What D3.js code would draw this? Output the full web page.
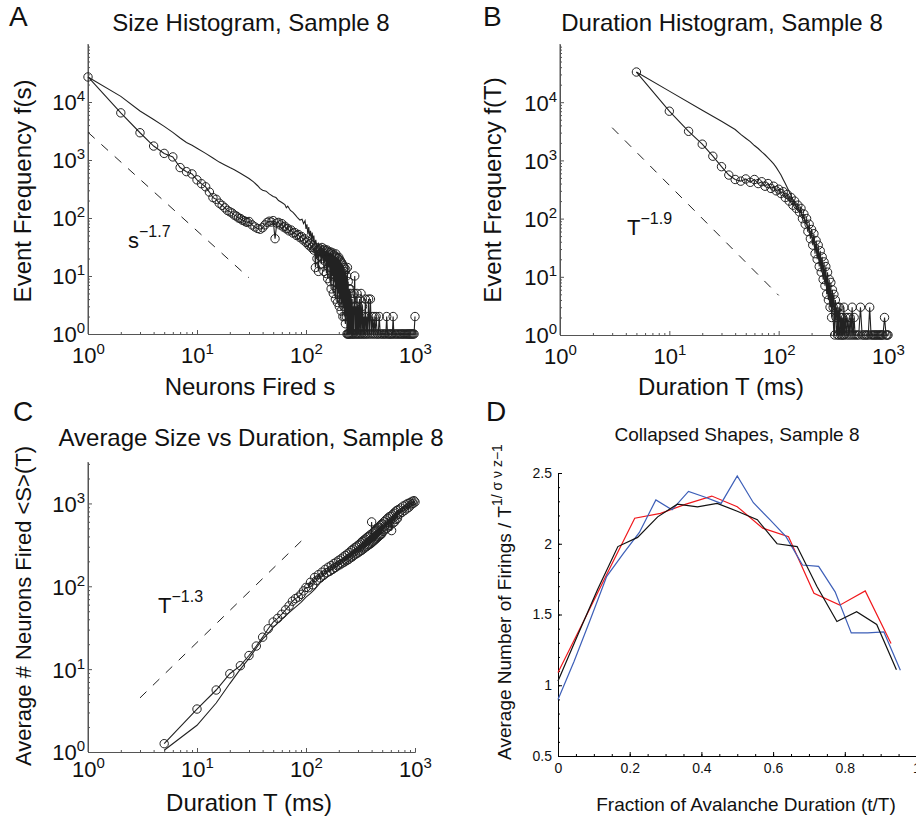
<!DOCTYPE html>
<html>
<head>
<meta charset="utf-8">
<script src="https://cdn.jsdelivr.net/npm/d3@7"></script>
<style>
  body { margin: 0; background: #fff; }
  text { font-family: "Liberation Sans", Arial, Helvetica, sans-serif; fill: #111; }
</style>
</head>
<body>
<svg id="fig" width="916" height="823"></svg>
<script>
// ---- panel A: avalanche size histogram (circles = data, thin line = model) ----
const sizeHist = [[1,27000],[2,6500],[3,2950],[4,1740],[5,1300],[6,1130],[7,740],[8,630],[9,575],[10,455],
  [11,390],[12,345],[13,280],[14,225],[15,210],[16,180],[17,165],[18,150],[19,135],[20,128],[21,122],[22,112],
  [23,108],[24,100],[25,98],[26,92],[27,90],[28,86],[29,84],[30,87],[32,76],[34,70],[36,66],[38,64],[40,68],
  [42,76],[44,84],[46,88],[48,85],[50,90],[52,44],[54,82],[56,84],[58,76],[60,80],[62,70],[64,72],[66,65],
  [68,66],[70,60],[73,62],[76,55],[79,56],[82,50],[85,52],[88,46],[91,48],[94,42],[97,44],[100,38],[103,40],
  [106,34],[109,36],[112,31],[115,33],[118,28],[120,30],[122,14],[124,31],[126,20],[128,28],[130,12],[132,30],
  [134,22],[136,29],[138,16],[140,31],[142,20],[144,28],[146,12],[148,29],[150,18],[152,27],[154,11],[156,28],
  [158,9],[160,26],[162,14],[164,25],[166,8],[168,26],[170,6],[172,24],[174,10],[176,25],[178,5],[180,23],
  [182,8],[184,22],[186,4],[188,24],[190,6],[192,21],[194,3.5],[196,20],[198,5],[200,21],[202,3],[204,19],
  [206,4],[208,18],[210,2.5],[212,17],[214,3.5],[216,16],[218,2],[220,15],[222,3],[224,14],[226,2],[228,12],
  [230,1.5],[232,13],[234,2],[236,10],[238,1],[240,14],[242,1],[244,8],[246,1],[248,6],
  [250,1],[253,6],[256,1],[259,5],[262,1],[265,4],[268,1],[271,3],[274,1],[277,5],[280,10],[283,1],[286,3],
  [290,1],[294,5],[298,1],[302,3],[306,1],[310,4],[315,1],[320,5],[325,1],[330,3],[335,1],[340,2],[345,1],
  [350,4],[356,1],[362,2],[368,1],[375,4],[382,1],[390,4],[398,1],[406,2],[414,1],[422,2],[430,1],[440,2],
  [450,1],[460,1],[470,2],[480,1],[495,1],[510,1],[525,1],[540,1],[550,2],[560,1],[575,1],[590,1],[605,1],
  [620,1],[630,2],[640,1],[660,1],[680,1],[700,1],[720,1],[740,1],[760,1],[780,1],[800,1],[820,1],[840,1],
  [860,1],[880,1],[900,1],[920,1],[940,1],[960,1],[980,1],[1000,2]];
const sizeModel = [[1,27000],[2,12500],[3,7000],[4,5000],[5,3800],[6,3000],[7,2400],[8,2000],[9,1800],[10,1600],
  [12,1300],[14,1080],[16,920],[18,820],[20,740],[22,680],[25,590],[28,520],[30,480],[33,420],[36,360],[38,320],
  [40,300],[43,290],[46,260],[50,235],[53,225],[56,200],[60,185],[64,170],[66,150],[68,160],[72,135],[76,125],
  [80,112],[84,100],[88,92],[92,95],[95,80],[98,90],[100,65],[102,78],[104,52],[106,70],[108,48],[110,60],
  [112,42],[114,56],[116,40],[118,50],[120,35],[123,42],[126,30],[130,36],[134,28],[138,32],[142,25],[146,30],
  [150,22],[155,26],[160,18],[165,24],[170,14],[175,22],[180,10],[185,20],[190,7],[195,18],[200,5],[205,15],
  [210,4],[215,14],[220,3],[225,10],[230,1.5],[235,8],[240,1],[245,5],[250,1]];
const sizeFit = [[1,3000],[30,9.3]];

// ---- panel B: duration histogram ----
const durHist = [[5,33000],[10,7000],[15,3160],[20,1900],[25,1180],[30,780],[35,560],[40,470],[45,440],[50,480],
  [55,420],[60,470],[65,400],[70,430],[75,360],[80,400],[85,330],[90,360],[95,300],[100,320],[105,270],[110,290],
  [115,230],[120,260],[125,200],[130,230],[135,170],[140,200],[145,150],[150,170],[155,130],[160,150],[165,100],
  [170,120],[175,80],[180,100],[185,60],[190,80],[195,45],[200,65],[205,35],[210,55],[215,25],[220,42],[225,20],
  [230,35],[235,15],[240,28],[245,12],[250,22],[255,9],[260,18],[265,7],[270,15],[275,5],[280,12],[285,4],
  [290,9],[295,3],[300,8],[305,2],[310,6],[315,3],[320,5],[325,1],[330,4],[335,2],[340,3],[345,1],[350,3],
  [355,1],[360,3],[365,2],[370,1],[375,2],[380,1],[385,2],[390,1],[395,3],[400,1],[410,2],[420,1],[430,2],
  [440,1],[450,2],[460,1],[470,3],[480,1],[490,2],[500,1],[520,1],[540,1],[560,3],[580,1],[600,1],[620,1],
  [640,1],[660,1],[680,3],[700,1],[720,1],[740,1],[760,1],[780,1],[800,1],[820,1],[840,1],[860,1],[880,1],
  [900,1],[930,2],[960,1],[980,1],[1000,1]];
const durModel = [[5,33000],[10,15500],[20,7300],[30,4700],[40,3400],[45,2800],[50,2400],[55,2100],[60,1800],
  [65,1600],[70,1400],[75,1250],[80,1100],[85,980],[90,870],[95,760],[100,650],[105,560],[110,470],[115,400],
  [120,340],[125,290],[130,250],[135,210],[140,180],[145,160],[150,145],[160,125],[170,100],[180,80],[190,62],
  [200,50],[210,38],[220,30],[230,22],[240,17],[250,12],[260,9],[270,8],[280,5],[285,8],[290,4],[300,3],
  [310,4],[320,1],[330,3],[340,1],[350,2],[360,1],[370,2],[380,1],[390,2],[400,1],[420,2],[440,1],[460,2],[480,1]];
const durFit = [[3,3650],[100,4.8]];

// ---- panel C: average size vs duration ----
const avgSize = [[5,1.26],[10,3.3],[15,5.6],[20,8.8],[25,11],[30,14.6],[35,19],[40,24.3],[45,30.7],[50,37],
  [55,41],[60,46],[65,52],[70,58],[75,66],[80,71],[85,74],[90,80],[95,88],[100,97],[105,96],[110,112],[115,104],
  [120,128],[125,118],[130,138],[135,126],[140,148],[145,136],[150,160],[155,146],[160,170],[165,152],[170,178],
  [175,160],[180,188],[185,168],[190,196],[195,176],[200,206],[205,182],[210,214],[215,190],[220,226],[225,196],
  [230,236],[235,204],[240,246],[245,210],[250,256],[255,220],[260,270],[265,226],[270,280],[275,236],[280,292],
  [285,244],[290,300],[295,250],[300,312],[305,258],[310,322],[315,266],[320,336],[325,272],[330,350],[335,282],
  [340,360],[345,290],[350,372],[355,300],[360,384],[365,306],[370,396],[375,316],[380,404],[385,322],[390,420],
  [395,330],[400,598],[405,340],[410,440],[415,350],[420,456],[425,360],[430,468],[435,370],[440,480],[445,380],
  [450,496],[455,392],[460,510],[465,400],[470,520],[475,412],[480,540],[485,420],[490,556],[495,430],[500,570],
  [510,460],[520,600],[530,480],[540,630],[550,500],[560,660],[570,520],[580,690],[590,540],[600,700],[610,470],
  [620,730],[630,580],[640,760],[650,600],[660,790],[670,640],[680,820],[690,660],[700,840],[720,740],[740,880],
  [760,780],[780,930],[800,820],[820,960],[840,860],[860,1000],[880,900],[900,1020],[920,960],[940,1060],
  [960,1000],[980,1080],[1000,1040]];
const avgModel = [[5,1.05],[10,2.1],[15,3.9],[20,6.7],[25,10],[30,13.5],[35,18],[40,23],[45,27],[50,32],
  [60,40],[70,48],[80,56],[90,64],[100,74],[110,82],[120,92],[130,104],[140,116],[150,124],[160,132],[175,142],
  [190,152],[210,170],[230,190],[250,205],[270,225],[290,240],[310,262],[330,270],[350,300],[370,310],
  [400,340],[430,360],[460,400],[500,440],[550,490],[600,540],[650,600],[700,650],[750,720],[800,780],
  [850,840],[900,900],[950,980],[1000,1040]];
const avgFit = [[3,4.5],[100,400]];

// ---- panel D: collapsed shapes ----
const shapeBlack = [[0,1.03],[0.056,1.36],[0.111,1.68],[0.167,1.98],[0.222,2.045],[0.278,2.19],[0.333,2.28],
  [0.389,2.26],[0.444,2.285],[0.5,2.23],[0.556,2.17],[0.611,2.0],[0.667,1.98],[0.722,1.70],[0.778,1.45],
  [0.833,1.52],[0.889,1.43],[0.944,1.11]];
const shapeRed = [[0,1.09],[0.071,1.45],[0.143,1.82],[0.214,2.18],[0.286,2.215],[0.357,2.28],[0.429,2.337],
  [0.5,2.262],[0.571,2.11],[0.643,2.05],[0.714,1.65],[0.786,1.566],[0.857,1.667],[0.929,1.295]];
const shapeBlue = [[0,0.9],[0.045,1.17],[0.091,1.47],[0.136,1.77],[0.182,1.93],[0.227,2.08],[0.273,2.31],
  [0.318,2.24],[0.364,2.37],[0.409,2.33],[0.455,2.285],[0.5,2.48],[0.545,2.29],[0.591,2.17],[0.636,2.05],
  [0.682,1.85],[0.727,1.84],[0.773,1.66],[0.818,1.37],[0.864,1.37],[0.909,1.377],[0.955,1.106]];

const FONT = '"Liberation Sans", Arial, Helvetica, sans-serif';
const svg = d3.select("#fig");

// text with a superscript part, e.g. T^-1.9
function supText(x, y, base, sup, size, supSize, shift, rotate) {
  const t = svg.append("text")
    .attr("x", x).attr("y", y)
    .style("font-size", size + "px");
  if (rotate) t.attr("transform", `rotate(-90,${x},${y})`).attr("text-anchor", "middle");
  t.append("tspan").text(base);
  if (sup) t.append("tspan").attr("dy", -shift).style("font-size", supSize + "px").text(sup);
  return t;
}

function drawLogPanel(p) {
  const x = d3.scaleLog().domain([1, 1000]).range([p.left, p.right]);
  const y = d3.scaleLog().domain(p.yDomain).range([p.bottom, p.top]);
  const g = svg.append("g");

  const xMinor = [];
  for (let e = 0; e < 3; e++) for (let m = 2; m <= 9; m++) xMinor.push(m * 10 ** e);
  const yMinor = [];
  for (let e = 0; e < 5; e++) for (let m = 2; m <= 9; m++) {
    if (m * 10 ** e <= p.yDomain[1]) yMinor.push(m * 10 ** e);
  }

  // minor ticks (inward)
  g.append("g").attr("transform", `translate(0,${p.bottom})`)
    .call(d3.axisBottom(x).tickValues(xMinor).tickSize(-2).tickSizeOuter(0).tickFormat(""))
    .attr("color", "#555");
  g.append("g").attr("transform", `translate(${p.left},0)`)
    .call(d3.axisLeft(y).tickValues(yMinor).tickSize(-2).tickSizeOuter(0).tickFormat(""))
    .attr("color", "#555");

  // major axes
  const xa = g.append("g").attr("transform", `translate(0,${p.bottom})`)
    .call(d3.axisBottom(x).tickValues([1, 10, 100, 1000]).tickSize(-4).tickSizeOuter(0).tickFormat(""))
    .attr("color", "#555").attr("font-family", FONT).attr("font-size", 22);
  xa.selectAll(".tick text").each(function (d) {
    const t = d3.select(this).attr("y", p.xTickY).attr("dy", null).style("fill", "#111");
    t.append("tspan").text("10");
    t.append("tspan").attr("dy", -9).style("font-size", "15px").text(Math.round(Math.log10(d)));
  });

  const ya = g.append("g").attr("transform", `translate(${p.left},0)`)
    .call(d3.axisLeft(y).tickValues(p.yTicks).tickSize(-4).tickSizeOuter(0).tickFormat(""))
    .attr("color", "#555").attr("font-family", FONT).attr("font-size", 22);
  ya.selectAll(".tick text").each(function (d) {
    const t = d3.select(this).attr("x", -3).attr("dy", "0.36em").style("fill", "#111");
    t.append("tspan").text("10");
    t.append("tspan").attr("dy", -9).style("font-size", "15px").text(Math.round(Math.log10(d)));
  });
  // y axis line runs up to the top of the plot
  ya.select(".domain").attr("d", `M0,${p.top}V${p.bottom}`);

  const line = d3.line().x(d => x(d[0])).y(d => y(d[1]));

  // reference power law (dashed)
  g.append("path").attr("d", line(p.fit))
    .attr("fill", "none").attr("stroke", "#222").attr("stroke-width", 1)
    .attr("stroke-dasharray", "9,9");

  // model curve (thin line)
  g.append("path").attr("d", line(p.model))
    .attr("fill", "none").attr("stroke", "#222").attr("stroke-width", 1.1);

  // data: line + open circles
  g.append("path").attr("d", line(p.data))
    .attr("fill", "none").attr("stroke", "#222").attr("stroke-width", 1.1);
  g.append("g").selectAll("circle").data(p.data).join("circle")
    .attr("cx", d => x(d[0])).attr("cy", d => y(d[1])).attr("r", 4.2)
    .attr("fill", "none").attr("stroke", "#222").attr("stroke-width", 1);

  // titles and labels
  svg.append("text").attr("x", p.titleX).attr("y", p.titleY).attr("text-anchor", "middle")
    .style("font-size", "24px").text(p.title);
  svg.append("text").attr("x", p.xLabelX).attr("y", p.xLabelY).attr("text-anchor", "middle")
    .style("font-size", "24px").text(p.xLabel);
  supText(p.yLabelX, p.yLabelY, p.yLabel, null, p.yLabelSize, 0, 0, true);
  supText(p.annX, p.annY, p.annBase, p.annSup, 22, 16, 11, false);
  svg.append("text").attr("x", p.letterX).attr("y", p.letterY)
    .style("font-size", "28px").text(p.letter);
}

drawLogPanel({
  left: 88, right: 415, bottom: 334, top: 44, yDomain: [1, 1e5], yTicks: [1, 10, 100, 1000, 10000],
  xTickY: 29, data: sizeHist, model: sizeModel, fit: sizeFit,
  title: "Size Histogram, Sample 8", titleX: 251, titleY: 31,
  xLabel: "Neurons Fired s", xLabelX: 250, xLabelY: 395,
  yLabel: "Event Frequency f(s)", yLabelX: 31, yLabelY: 191, yLabelSize: 24,
  annX: 128, annY: 248, annBase: "s", annSup: "\u22121.7",
  letter: "A", letterX: 9, letterY: 26
});

drawLogPanel({
  left: 560, right: 888, bottom: 335, top: 44, yDomain: [1, 1e5], yTicks: [1, 10, 100, 1000, 10000],
  xTickY: 29, data: durHist, model: durModel, fit: durFit,
  title: "Duration Histogram, Sample 8", titleX: 722, titleY: 31,
  xLabel: "Duration T (ms)", xLabelX: 721, xLabelY: 395,
  yLabel: "Event Frequency f(T)", yLabelX: 501, yLabelY: 190, yLabelSize: 24,
  annX: 627, annY: 235, annBase: "T", annSup: "\u22121.9",
  letter: "B", letterX: 483, letterY: 26
});

drawLogPanel({
  left: 88, right: 415, bottom: 752, top: 462, yDomain: [1, Math.pow(10, 3.5)], yTicks: [1, 10, 100, 1000],
  xTickY: 25, data: avgSize, model: avgModel, fit: avgFit,
  title: "Average Size vs Duration, Sample 8", titleX: 251, titleY: 446,
  xLabel: "Duration T (ms)", xLabelX: 249, xLabelY: 811,
  yLabel: "Average # Neurons Fired <S>(T)", yLabelX: 31, yLabelY: 606, yLabelSize: 22,
  annX: 158, annY: 613, annBase: "T", annSup: "\u22121.3",
  letter: "C", letterX: 13, letterY: 421
});

// ---- panel D ----
(function () {
  const x = d3.scaleLinear().domain([0, 1]).range([558, 916.5]);
  const y = d3.scaleLinear().domain([0.5, 2.5]).range([756, 473]);
  const g = svg.append("g");
  const fmt = d3.format("~g");

  g.append("g").attr("transform", "translate(0,756)")
    .call(d3.axisBottom(x).ticks(25).tickSize(-2).tickSizeOuter(0).tickFormat(""))
    .attr("color", "#000");
  g.append("g").attr("transform", "translate(558,0)")
    .call(d3.axisLeft(y).ticks(20).tickSize(-2).tickSizeOuter(0).tickFormat(""))
    .attr("color", "#000");

  g.append("g").attr("transform", "translate(0,756)")
    .call(d3.axisBottom(x).tickValues([0, 0.2, 0.4, 0.6, 0.8, 1]).tickSize(-4).tickSizeOuter(0)
      .tickPadding(7).tickFormat(fmt))
    .attr("color", "#000").attr("font-family", FONT).attr("font-size", 14)
    .selectAll(".tick text").style("fill", "#111");
  g.append("g").attr("transform", "translate(558,0)")
    .call(d3.axisLeft(y).tickValues([0.5, 1, 1.5, 2, 2.5]).tickSize(-4).tickSizeOuter(0)
      .tickPadding(6).tickFormat(fmt))
    .attr("color", "#000").attr("font-family", FONT).attr("font-size", 14)
    .selectAll(".tick text").style("fill", "#111");

  const line = d3.line().x(d => x(d[0])).y(d => y(d[1]));
  [[shapeRed, "#f0181c"], [shapeBlue, "#3d5fb8"], [shapeBlack, "#111"]].forEach(([s, c]) => {
    g.append("path").attr("d", line(s)).attr("fill", "none")
      .attr("stroke", c).attr("stroke-width", 1.2);
  });

  svg.append("text").attr("x", 737).attr("y", 441).attr("text-anchor", "middle")
    .style("font-size", "19px").text("Collapsed Shapes, Sample 8");
  svg.append("text").attr("x", 746).attr("y", 811).attr("text-anchor", "middle")
    .style("font-size", "19px").text("Fraction of Avalanche Duration (t/T)");
  supText(511, 602, "Average Number of Firings / T", "1/ \u03c3 \u03bd z\u22121", 19, 14, 9, true);
  svg.append("text").attr("x", 486).attr("y", 421).style("font-size", "28px").text("D");
})();
</script>
</body>
</html>
